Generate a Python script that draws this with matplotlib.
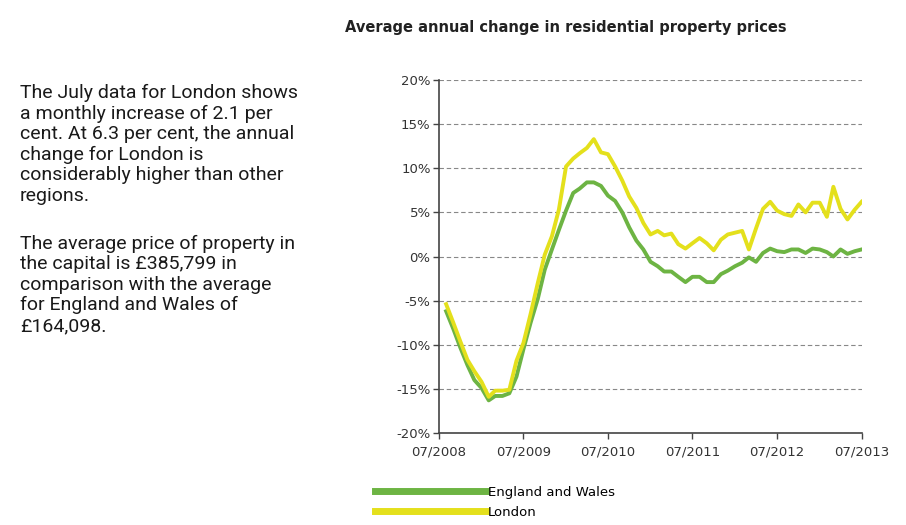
import numpy as np
import pandas as pd
import matplotlib
matplotlib.use('Agg')
import matplotlib.pyplot as plt
import matplotlib.dates as mdates
from matplotlib.ticker import FuncFormatter

# Monatswerte 08/2008 - 07/2013 (jaehrliche Veraenderung in %)
months = pd.date_range('2008-08-01', periods=60, freq='MS')
england_wales = [-6.2, -8.2, -10.3, -12.3, -14.0, -14.9, -16.3, -15.8, -15.8, -15.5,
                 -13.6, -10.5, -7.5, -4.8, -1.5, 0.8, 3.0, 5.2, 7.2, 7.7,
                 8.4, 8.4, 8.0, 6.9, 6.3, 5.0, 3.3, 1.8, 0.8, -0.6,
                 -1.1, -1.7, -1.7, -2.3, -2.9, -2.3, -2.3, -2.9, -2.9, -2.0,
                 -1.6, -1.1, -0.7, -0.1, -0.6, 0.4, 0.9, 0.6, 0.5, 0.8,
                 0.8, 0.4, 0.9, 0.8, 0.5, 0.0, 0.8, 0.3, 0.6, 0.8]
london = [-5.4, -7.5, -9.6, -11.7, -13.0, -14.2, -15.9, -15.2, -15.2, -15.1,
          -11.8, -9.8, -6.5, -3.0, 0.2, 2.3, 5.3, 10.2, 11.1, 11.7,
          12.3, 13.3, 11.8, 11.6, 10.2, 8.6, 6.8, 5.5, 3.8, 2.5,
          2.9, 2.4, 2.6, 1.4, 0.9, 1.5, 2.1, 1.5, 0.7, 1.9,
          2.5, 2.7, 2.9, 0.8, 3.2, 5.4, 6.2, 5.2, 4.8, 4.6,
          5.9, 5.0, 6.1, 6.1, 4.5, 7.9, 5.4, 4.2, 5.3, 6.2]
x_ticks = pd.date_range('2008-07-01', periods=6, freq='12MS')
y_ticks = [-20, -15, -10, -5, 0, 5, 10, 15, 20]

title = 'Average annual change in residential property prices'
para1 = ('The July data for London shows\na monthly increase of 2.1 per\n'
         'cent. At 6.3 per cent, the annual\nchange for London is\n'
         'considerably higher than other\nregions.')
para2 = ('The average price of property in\nthe capital is £385,799 in\n'
         'comparison with the average\nfor England and Wales of\n£164,098.')

green = '#6db443'
yellow = '#e4e01c'
axis_col = '#444444'

fig = plt.figure(figsize=(9.06, 5.25), dpi=100)
ax = fig.add_axes([0.4845, 0.1752, 0.4665, 0.6724])

ax.plot(months, england_wales, color=green, lw=2.8, label='England and Wales')
ax.plot(months, london, color=yellow, lw=2.8, label='London')

ax.set_ylim(-20, 20)
ax.set_xlim(x_ticks[0], x_ticks[-1])
ax.set_yticks(y_ticks)
ax.yaxis.set_major_formatter(FuncFormatter(lambda v, p: '%d%%' % v))
ax.set_xticks(x_ticks)
ax.xaxis.set_major_formatter(mdates.DateFormatter('%m/%Y'))
ax.tick_params(colors=axis_col, labelsize=9.5, length=4, width=1)
ax.tick_params(axis='x', pad=5)
ax.tick_params(axis='y', pad=2)
for lab in ax.get_xticklabels() + ax.get_yticklabels():
    lab.set_color('#333333')

ax.grid(axis='y', linestyle=(0, (4, 2.5)), color='#888888', lw=0.8)
ax.set_axisbelow(True)
for s in ['top', 'right']:
    ax.spines[s].set_visible(False)
for s in ['left', 'bottom']:
    ax.spines[s].set_color(axis_col)
    ax.spines[s].set_linewidth(1.2)

fig.text(0.624, 0.948, title, ha='center', va='center', fontsize=10.5,
         fontweight='bold', color='#222222')

fig.text(0.022, 0.84, para1, ha='left', va='top', fontsize=14,
         family='Roboto', color='#1a1a1a', linespacing=1.18)
fig.text(0.022, 0.553, para2, ha='left', va='top', fontsize=14,
         family='Roboto', color='#1a1a1a', linespacing=1.18)

leg = ax.legend(loc='upper left', bbox_to_anchor=(0.408, 0.085),
                bbox_transform=fig.transFigure, frameon=False, fontsize=9.5,
                handlelength=8.4, handletextpad=0.15, labelspacing=0.55,
                borderaxespad=0)
for h in leg.get_lines():
    h.set_linewidth(5)

fig.savefig('out.png', dpi=100)
